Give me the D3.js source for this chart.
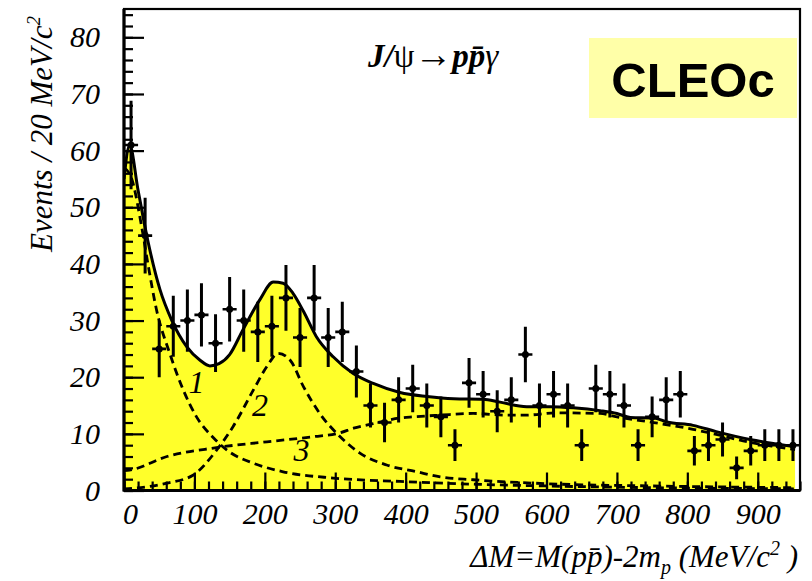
<!DOCTYPE html>
<html lang="en">
<head>
<meta charset="UTF-8">
<title>J/psi -> p pbar gamma, CLEOc</title>
<script src="https://cdn.jsdelivr.net/npm/d3@7"></script>
<style>
    body { margin: 0; background: #fff; }
    svg { display: block; }
    .serif { font-family: "Liberation Serif", "DejaVu Serif", serif; font-style: italic; }
</style>
</head>
<body>
<script>
// bins of 20 MeV/c^2 (centres)
var binCenters = [10, 30, 50, 70, 90, 110, 130, 150, 170, 190, 210, 230, 250, 270, 290, 310,
    330, 350, 370, 390, 410, 430, 450, 470, 490, 510, 530, 550, 570, 590, 610, 630,
    650, 670, 690, 710, 730, 750, 770, 790, 810, 830, 850, 870, 890, 910, 930, 950];
// events per bin
var counts = [61, 45, 25, 29, 30, 31, 26, 32, 30, 28, 29, 34, 27, 34, 27, 28,
    21, 15, 12, 16, 18, 15, 13, 8, 19, 17, 14, 16, 24, 15, 17, 15,
    8, 18, 17, 15, 8, 13, 16, 17, 7, 8, 9, 4, 7, 8, 8, 8];
// error bar half lengths
var errors = [7.8, 6.7, 5, 5.4, 5.5, 5.6, 5.1, 5.7, 5.5, 5.3, 5.4, 5.8, 5.2, 5.8, 5.2, 5.3,
    4.6, 3.9, 3.5, 4, 4.2, 3.9, 3.6, 2.8, 4.4, 4.1, 3.7, 4, 4.9, 3.9, 4.1, 3.9,
    2.8, 4.2, 4.1, 3.9, 2.8, 3.6, 4, 4.1, 2.6, 2.8, 3, 2, 2.6, 2.8, 2.8, 2.8];

// total fit (solid line, yellow fill)
var fitX = [0, 8, 20, 34, 51, 68, 89, 108, 122, 135, 150, 169, 193, 212, 226, 240, 255, 273, 297, 325,
    354, 392, 430, 468, 510, 534, 572, 605, 638, 676, 700, 719, 752, 771, 808, 841, 889, 927, 953];
var fitY = [55, 61, 53, 44, 35.5, 30, 25.4, 23, 22, 22.4, 24, 28.4, 33.7, 36.8, 36.6, 34.8, 31.6, 27.2, 23.6, 20.7,
    18.9, 17.3, 16.6, 16.2, 16.1, 15.6, 14.8, 14.8, 14.6, 14.1, 13.6, 12.9, 12.8, 12.1, 11.5, 10.4, 9, 8.2, 7.7];

// component 1 (threshold enhancement)
var comp1X = [0, 11, 25, 34, 46, 65, 84, 103, 127, 150, 184, 226, 297, 392, 500, 600, 750, 953];
var comp1Y = [57, 55, 46.6, 40, 32, 24.2, 17.8, 13, 9.3, 6.8, 4.8, 3.3, 2.2, 1.6, 1.1, 0.8, 0.5, 0.3];
// component 2 (resonance)
var comp2X = [0, 13, 61, 98, 132, 155, 184, 203, 219, 236, 255, 278, 307, 335, 373, 416, 449, 496, 600, 750, 953];
var comp2Y = [0.3, 0.4, 1.3, 2.7, 7.2, 11.3, 17.8, 21.9, 24.2, 23, 18.3, 13.6, 9.5, 6.6, 4.5, 3.3, 2.4, 1.9, 1.2, 0.8, 0.5];
// component 3 (phase space)
var comp3X = [0, 8, 61, 127, 203, 269, 307, 326, 354, 392, 411, 449, 496, 543, 570, 614, 676, 700, 752, 808, 841, 889, 927, 953];
var comp3Y = [3.5, 3.6, 6, 7.5, 8.6, 9.5, 10.2, 11, 11.8, 12.8, 13, 13.3, 13.6, 13.3, 13.3, 13.7, 13.6, 13, 12, 10.8, 9.9, 8.5, 7.7, 7.2];

// component labels
var compNames = ["1", "2", "3"];
var compLabelX = [103, 193, 252];
var compLabelY = [19.2, 15.1, 7.2];

var xTicks = [0, 100, 200, 300, 400, 500, 600, 700, 800, 900];
var yTicks = [0, 10, 20, 30, 40, 50, 60, 70, 80];

var width = 812, height = 581;
// frame edges (note: "top" is a reserved window name, so use plotTop)
var plotLeft = 124, plotRight = 800, plotTop = 9, plotBottom = 490.5;

var svg = d3.select("body").append("svg")
    .attr("width", width)
    .attr("height", height);

var x = d3.scaleLinear().domain([0, 960]).range([plotLeft, plotRight]);
var y = d3.scaleLinear().domain([0, 85]).range([plotBottom, plotTop]);

function pts(xs, ys) {
    return xs.map(function (v, i) { return [v, ys[i]]; });
}

svg.append("clipPath").attr("id", "frame")
    .append("rect").attr("x", plotLeft).attr("y", plotTop)
    .attr("width", plotRight - plotLeft).attr("height", plotBottom - plotTop);

var plot = svg.append("g").attr("clip-path", "url(#frame)");

// yellow area under the total fit
plot.append("path")
    .datum(pts(fitX, fitY))
    .attr("fill", "#ffff2a")
    .attr("d", d3.area()
        .x(function (d) { return x(d[0]); })
        .y0(y(0))
        .y1(function (d) { return y(d[1]); })
        .curve(d3.curveMonotoneX));

var line = d3.line()
    .x(function (d) { return x(d[0]); })
    .y(function (d) { return y(d[1]); })
    .curve(d3.curveMonotoneX);

// dashed components
[pts(comp1X, comp1Y), pts(comp2X, comp2Y), pts(comp3X, comp3Y)].forEach(function (c) {
    plot.append("path")
        .datum(c)
        .attr("fill", "none")
        .attr("stroke", "#000")
        .attr("stroke-width", 2.8)
        .attr("stroke-dasharray", "8,5")
        .attr("d", line);
});

// total fit
plot.append("path")
    .datum(pts(fitX, fitY))
    .attr("fill", "none")
    .attr("stroke", "#000")
    .attr("stroke-width", 3)
    .attr("d", line);

// data points with error bars
var pg = plot.selectAll(".pt")
    .data(binCenters.map(function (c, i) { return { x: c, n: counts[i], e: errors[i] }; }))
    .enter().append("g").attr("class", "pt");

pg.append("line")
    .attr("x1", function (d) { return x(d.x); })
    .attr("x2", function (d) { return x(d.x); })
    .attr("y1", function (d) { return y(d.n - d.e); })
    .attr("y2", function (d) { return y(d.n + d.e); })
    .attr("stroke", "#000").attr("stroke-width", 3);
pg.append("line")
    .attr("x1", function (d) { return x(d.x - 10); })
    .attr("x2", function (d) { return x(d.x + 10); })
    .attr("y1", function (d) { return y(d.n); })
    .attr("y2", function (d) { return y(d.n); })
    .attr("stroke", "#000").attr("stroke-width", 2.6);
pg.append("circle")
    .attr("cx", function (d) { return x(d.x); })
    .attr("cy", function (d) { return y(d.n); })
    .attr("r", 3.5)
    .attr("fill", "#000");

// component labels
svg.selectAll(".clab")
    .data(compNames)
    .enter().append("text")
    .attr("class", "serif")
    .attr("x", function (d, i) { return x(compLabelX[i]); })
    .attr("y", function (d, i) { return y(compLabelY[i]); })
    .attr("dy", "0.35em")
    .attr("text-anchor", "middle")
    .style("font-size", "32px")
    .text(function (d) { return d; });

// frame
svg.append("rect")
    .attr("x", plotLeft).attr("y", plotTop)
    .attr("width", plotRight - plotLeft).attr("height", plotBottom - plotTop)
    .attr("fill", "none").attr("stroke", "#000").attr("stroke-width", 2.2);
svg.append("line")
    .attr("x1", plotLeft).attr("x2", plotLeft).attr("y1", plotTop).attr("y2", plotBottom + 1)
    .attr("stroke", "#000").attr("stroke-width", 3.2);
svg.append("line")
    .attr("x1", plotLeft).attr("x2", plotRight).attr("y1", plotBottom).attr("y2", plotBottom)
    .attr("stroke", "#000").attr("stroke-width", 3);

// y axis: minor + major ticks, labels
var yMinor = svg.append("g").attr("transform", "translate(" + plotLeft + ",0)")
    .call(d3.axisLeft(y).ticks(40).tickSize(-9).tickFormat(""));
var yMajor = svg.append("g").attr("transform", "translate(" + plotLeft + ",0)")
    .call(d3.axisLeft(y).tickValues(yTicks).tickSize(-20).tickPadding(24));

// x axis
var xMinor = svg.append("g").attr("transform", "translate(0," + plotBottom + ")")
    .call(d3.axisBottom(x).ticks(48).tickSize(-9).tickFormat(""));
var xMajor = svg.append("g").attr("transform", "translate(0," + plotBottom + ")")
    .call(d3.axisBottom(x).tickValues(xTicks).tickSize(-18).tickPadding(12));

[yMinor, yMajor, xMinor, xMajor].forEach(function (g) {
    g.select(".domain").remove();
    g.selectAll(".tick line").attr("stroke", "#000").attr("stroke-width", 2.2);
    g.selectAll("text")
        .attr("class", "serif")
        .attr("fill", "#000")
        .style("font-size", "30px");
});
// the 0 label sits a little right of its tick
xMajor.selectAll(".tick text").filter(function (d) { return d === 0; }).attr("x", 6);

// axis titles
var ylab = svg.append("text")
    .attr("class", "serif")
    .attr("transform", "translate(52,252) rotate(-90)")
    .style("font-size", "31px");
ylab.append("tspan").text("Events / 20 MeV/c");
ylab.append("tspan").attr("dy", -12).style("font-size", "19px").text("2");

var xlab = svg.append("text")
    .attr("class", "serif")
    .attr("x", 798).attr("y", 567)
    .attr("text-anchor", "end")
    .style("font-size", "31px");
xlab.append("tspan").text("\u0394M=M(p\u0070\u0304)-2m");
xlab.append("tspan").attr("dy", 7).style("font-size", "20px").text("p");
xlab.append("tspan").attr("dy", -7).text(" (MeV/c");
xlab.append("tspan").attr("dy", -12).style("font-size", "20px").text("2");
xlab.append("tspan").attr("dy", 12).text(" )");

// process title
var title = svg.append("text")
    .attr("class", "serif")
    .attr("x", 368).attr("y", 67)
    .style("font-size", "33px");
title.append("tspan").style("font-weight", "bold").text("J/");
title.append("tspan").style("font-style", "normal").text("\u03c8");
title.append("tspan").style("font-style", "normal").style("font-size", "38px").text("\u2192");
title.append("tspan").style("font-weight", "bold").text("p\u0070\u0304");
title.append("tspan").text("\u03b3");

// CLEOc tag
svg.append("rect")
    .attr("x", 589).attr("y", 38)
    .attr("width", 208).attr("height", 80)
    .attr("fill", "#ffffa8");
svg.append("text")
    .attr("x", 693).attr("y", 97)
    .attr("text-anchor", "middle")
    .style("font-family", "'Liberation Sans', Arial, sans-serif")
    .style("font-weight", "bold")
    .style("font-size", "49px")
    .text("CLEOc");
</script>
</body>
</html>
